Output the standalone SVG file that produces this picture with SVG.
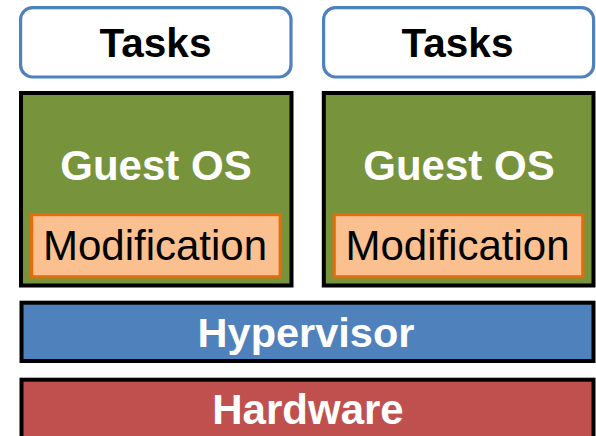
<svg xmlns="http://www.w3.org/2000/svg" width="596" height="436" viewBox="0 0 596 436">
<style>
.task{fill:#ffffff;stroke:#4f81bd;stroke-width:3.2}
.guest{fill:#77933c;stroke:#000000;stroke-width:4}
.mod{fill:#fac090;stroke:#e46c0a;stroke-width:3.2}
.hyp{fill:#4f81bd;stroke:#000000;stroke-width:4}
.hw{fill:#c0504d;stroke:#000000;stroke-width:4}
text{font-family:"Liberation Sans",Arial,sans-serif;text-anchor:middle}
.b{font-weight:bold}
.blk{fill:#000000}
.wht{fill:#ffffff}
</style>
<rect width="596" height="436" fill="#ffffff"/>
<g id="tasks-left">
<rect class="task" x="20.6" y="7.6" width="270.4" height="69.4" rx="12"/>
<text class="b blk" x="155.5" y="56.7" font-size="40.5">Tasks</text>
</g>
<g id="tasks-right">
<rect class="task" x="323.6" y="7.6" width="270" height="69.4" rx="12"/>
<text class="b blk" x="457.5" y="56.7" font-size="40.5">Tasks</text>
</g>
<g id="guest-left">
<rect class="guest" x="21" y="93" width="270.5" height="192.5"/>
<text class="b wht" x="156" y="180" font-size="42">Guest OS</text>
</g>
<g id="guest-right">
<rect class="guest" x="323.8" y="93" width="269.7" height="192.5"/>
<text class="b wht" x="459" y="180" font-size="42">Guest OS</text>
</g>
<g id="mod-left">
<rect class="mod" x="31.6" y="214.6" width="248.6" height="62.2"/>
<text class="blk" x="155" y="260" font-size="42">Modification</text>
</g>
<g id="mod-right">
<rect class="mod" x="334.2" y="214.6" width="248.6" height="62.2"/>
<text class="blk" x="457.5" y="260" font-size="42">Modification</text>
</g>
<g id="hypervisor">
<rect class="hyp" x="21.5" y="302.7" width="572" height="58.3"/>
<text class="b wht" x="306" y="346.5" font-size="41.5">Hypervisor</text>
</g>
<g id="hardware">
<rect class="hw" x="21.5" y="379.7" width="572" height="62"/>
<text class="b wht" x="308" y="424" font-size="42">Hardware</text>
</g>
<g id="connectors"/>
</svg>
